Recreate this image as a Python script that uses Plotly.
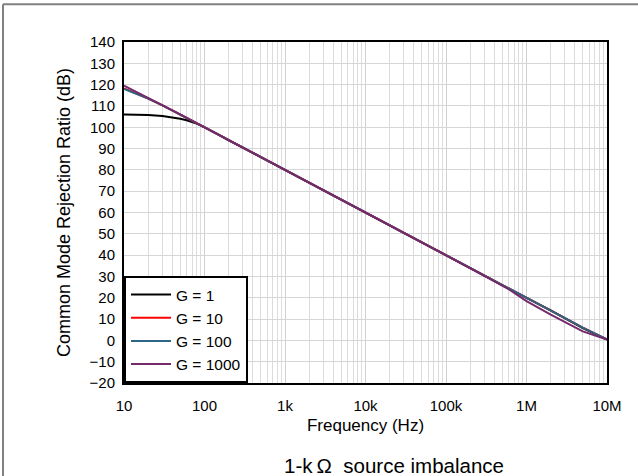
import plotly.graph_objects as go

# frequency points (Hz) and CMRR (dB)
freq = [10, 15, 20, 30, 40, 50, 60, 70, 80, 100, 120, 150, 200, 1e3, 1e4, 1e5,
        3e5, 6e5, 1e6, 2e6, 5e6, 1e7]
cmrr_g1 = [106, 105.9, 105.8, 105.3, 104.7, 104, 103.3, 102.5, 101.7, 99.9, 98.2, 96.4, 93.9,
           80, 60, 40, 30.4, 24.3, 20.1, 14.1, 5.7, 0.4]
cmrr_g10 = [118.2, 115.6, 113.5, 110.3, 107.9, 106, 104.4, 103, 101.9, 100, 98.4, 96.5, 94,
            80, 60, 40, 30.4, 24.3, 20.1, 14.1, 6, 0.5]
cmrr_g100 = [118, 115.5, 113.4, 110.3, 107.9, 106, 104.4, 103, 101.9, 100, 98.4, 96.5, 94,
             80, 60, 40, 30.4, 24.3, 20.1, 14.1, 6, 0.5]
cmrr_g1000 = [119.5, 116.2, 113.8, 110.4, 107.9, 106, 104.4, 103, 101.9, 100, 98.4, 96.5, 94,
              80, 60, 40, 30.3, 24, 18.4, 12.1, 4.2, 0.4]

x_ticks = [10, 100, 1e3, 1e4, 1e5, 1e6, 1e7]
x_labels = ['10', '100', '1k', '10k', '100k', '1M', '10M']
y_ticks = list(range(-20, 141, 10))

series = [
    ('G = 1', cmrr_g1, '#000000'),
    ('G = 10', cmrr_g10, '#ff0000'),
    ('G = 100', cmrr_g100, '#2b6684'),
    ('G = 1000', cmrr_g1000, '#752a6c'),
]

fig = go.Figure()
for name, vals, color in series:
    fig.add_trace(go.Scatter(
        x=freq, y=vals, mode='lines', name=name,
        line=dict(color=color, width=2),
    ))

font = 'Liberation Sans, Arial, sans-serif'
fig.update_layout(
    width=638, height=476,
    margin=dict(l=124, r=31, t=42, b=93),
    paper_bgcolor='white', plot_bgcolor='white',
    font=dict(family=font, size=15, color='#000000'),
    showlegend=True,
    legend=dict(
        x=0, y=0, xanchor='left', yanchor='bottom',
        bgcolor='white', bordercolor='#000000', borderwidth=2,
        font=dict(size=15.5), tracegroupgap=0, itemwidth=40,
    ),
    xaxis=dict(
        type='log', range=[1, 7],
        tickvals=x_ticks, ticktext=x_labels, ticks='',
        tickfont=dict(size=15), ticklabelstandoff=8,
        showgrid=True, gridcolor='#d0d0d0', gridwidth=1,
        minor=dict(dtick='D1', showgrid=True, gridcolor='#dcdcdc', gridwidth=1),
        showline=True, linecolor='#000000', linewidth=2, mirror=True,
        title=dict(text='Frequency (Hz)', font=dict(size=17), standoff=6),
        zeroline=False,
    ),
    yaxis=dict(
        range=[-20, 140], tickvals=y_ticks, ticks='',
        tickfont=dict(size=15), ticklabelstandoff=4,
        showgrid=True, gridcolor='#d6d6d6', gridwidth=1,
        showline=True, linecolor='#000000', linewidth=2, mirror=True,
        title=dict(text='Common Mode Rejection Ratio (dB)', font=dict(size=18), standoff=14),
        zeroline=False,
    ),
    shapes=[
        dict(type='line', xref='paper', yref='paper', x0=-0.2505, x1=1.07, y0=1.111, y1=1.111,
             line=dict(color='#808080', width=2)),
        dict(type='line', xref='paper', yref='paper', x0=-0.2505, x1=-0.2505, y0=1.111, y1=-0.28,
             line=dict(color='#808080', width=2)),
    ],
    annotations=[
        dict(text='1-k\u2009Ω\u00a0 source imbalance', xref='paper', yref='paper',
             x=0.559, y=-0.2405, xanchor='center', yanchor='middle', showarrow=False,
             font=dict(size=20.5, family=font)),
    ],
)

fig.write_html('out.html', config={'displayModeBar': False},
               post_script="document.body.style.margin='0';")
